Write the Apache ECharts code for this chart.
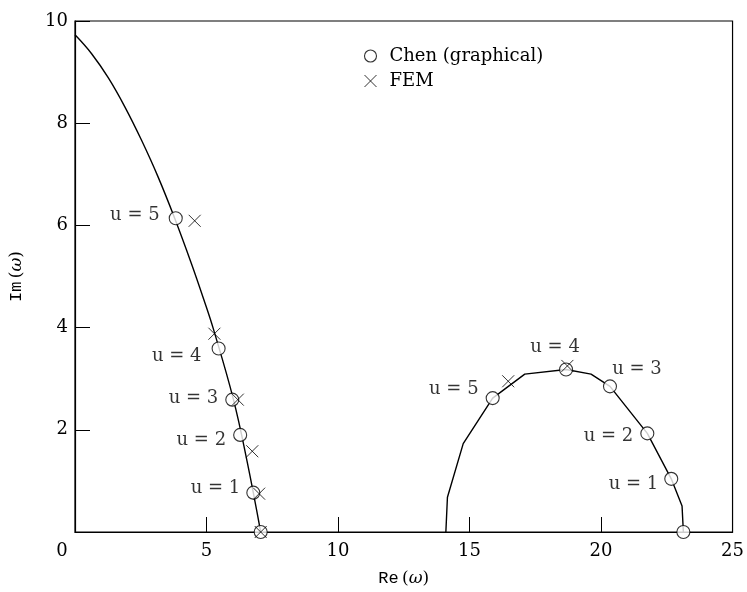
<!DOCTYPE html>
<html>
<head>
<meta charset="utf-8">
<script src="https://cdn.jsdelivr.net/npm/echarts@6/dist/echarts.min.js"></script>
<style>
  html, body { margin: 0; background: #fff; }
  #chart { width: 747px; height: 592px; }
</style>
</head>
<body>
<div id="chart"></div>
<script>
// datos
const curveLeft = [[0, 9.73], [0.632, 9.36], [1.263, 8.89], [1.895, 8.32], [2.526, 7.67], [3.158, 6.95],
  [3.79, 6.14], [4.421, 5.26], [4.89, 4.56], [5.269, 3.96], [6.025, 2.59], [6.543, 1.38], [7.06, 0]];
const curveRight = [[14.10, 0], [14.16, 0.68], [14.76, 1.73], [15.88, 2.62], [17.10, 3.09], [18.67, 3.18],
  [19.62, 3.09], [20.34, 2.85], [21.76, 1.93], [22.67, 1.04], [23.08, 0.51], [23.13, 0]];
const chenLeft = [[3.83, 6.14], [5.46, 3.59], [5.98, 2.59], [6.28, 1.90], [6.78, 0.77], [7.06, 0]];
const chenRight = [[15.88, 2.62], [18.67, 3.18], [20.34, 2.85], [21.76, 1.93], [22.67, 1.04], [23.13, 0]];
const femLeft = [[4.55, 6.09], [5.30, 3.88], [6.19, 2.59], [6.74, 1.58], [7.00, 0.75], [7.06, 0]];
const femRight = [[16.47, 2.95], [18.72, 3.25]];
const uLabels = ['u = 5', 'u = 4', 'u = 3', 'u = 2', 'u = 1', ''];

// colocacion de las etiquetas (solo estilo)
const placeLeft = [
  { position: 'left', distance: 9, offset: [0, -3] },
  { position: 'left', distance: 10, offset: [0, 8] },
  { position: 'left', distance: 7, offset: [0, -1] },
  { position: 'left', distance: 7, offset: [0, 5] },
  { position: 'left', distance: 6, offset: [0, -4] },
  { position: 'left', distance: 6, offset: [0, 0] }
];
const placeRight = [
  { position: 'left', distance: 7, offset: [0, -9] },
  { position: 'top', distance: 6, offset: [-11, 0] },
  { position: 'top', distance: 1, offset: [27, 0] },
  { position: 'left', distance: 7, offset: [0, 3] },
  { position: 'left', distance: 6, offset: [0, 5] },
  { position: 'left', distance: 6, offset: [0, 0] }
];

const serif = '"DejaVu Serif", serif';
const crossPath = 'path://M0,0L10,10M10,0L0,10';

function withLabels(points, place) {
  return points.map((p, i) => ({
    value: p,
    label: Object.assign({ show: !!uLabels[i], formatter: uLabels[i] }, place[i])
  }));
}

const chart = echarts.init(document.getElementById('chart'));

const lineStyle = { color: '#000', width: 1.4 };
const markerStyle = { color: '#fff', borderColor: '#000', borderWidth: 1.1 };
const crossStyle = { color: 'none', borderColor: '#000', borderWidth: 1 };
const labelStyle = { color: '#000', fontFamily: serif, fontSize: 18 };
const nameRich = {
  m: { fontFamily: '"Liberation Mono", monospace', fontSize: 17, color: '#000' },
  s: { fontFamily: serif, fontSize: 17, color: '#000' },
  w: { fontFamily: serif, fontStyle: 'italic', fontSize: 17, color: '#000' }
};

chart.setOption({
  backgroundColor: '#fff',
  animation: false,
  grid: { left: 74, right: 12, top: 21, bottom: 55, show: true, borderColor: '#000', borderWidth: 1.2 },
  legend: {
    orient: 'vertical',
    left: 357,
    top: 42,
    itemWidth: 12,
    itemHeight: 12,
    itemGap: 7,
    textStyle: { color: '#000', fontFamily: serif, fontSize: 18, lineHeight: 18, padding: [0, 0, 0, 8] },
    data: [
      { name: 'Chen (graphical)', icon: 'circle', itemStyle: markerStyle },
      { name: 'FEM', icon: crossPath, itemStyle: crossStyle }
    ]
  },
  xAxis: {
    type: 'value', min: 0, max: 25, interval: 5,
    name: '{m|Re} {s|(}{w|ω}{s|)}',
    nameLocation: 'middle', nameGap: 38,
    nameTextStyle: { rich: nameRich },
    axisLine: { lineStyle: { color: '#000', width: 1.2 } },
    axisTick: { inside: true, length: 15, lineStyle: { color: '#000' } },
    splitLine: { show: false },
    axisLabel: {
      margin: 10, color: '#000', fontFamily: serif, fontSize: 18,
      formatter: v => v === 0 ? '{z|0}' : String(v),
      rich: { z: { fontFamily: serif, fontSize: 18, color: '#000', padding: [0, 26, 0, 0] } }
    }
  },
  yAxis: {
    type: 'value', min: 0, max: 10, interval: 2,
    name: '{m|Im} {s|(}{w|ω}{s|)}',
    nameLocation: 'middle', nameGap: 50, nameRotate: 90,
    nameTextStyle: { rich: nameRich },
    axisLine: { lineStyle: { color: '#000', width: 1.2 } },
    axisTick: { inside: true, length: 15, lineStyle: { color: '#000' } },
    splitLine: { show: false },
    axisLabel: { showMinLabel: false, margin: 7, color: '#000', fontFamily: serif, fontSize: 18 }
  },
  series: [
    { type: 'line', data: curveLeft, smooth: 0.4, showSymbol: false, symbol: 'none', lineStyle: lineStyle, silent: true },
    { type: 'line', data: curveRight, smooth: false, showSymbol: false, symbol: 'none', lineStyle: lineStyle, silent: true },
    {
      name: 'Chen (graphical)', type: 'scatter', symbol: 'circle', symbolSize: 13,
      itemStyle: markerStyle, label: labelStyle, z: 3,
      data: withLabels(chenLeft, placeLeft).concat(withLabels(chenRight, placeRight))
    },
    {
      name: 'FEM', type: 'scatter', symbol: crossPath, symbolSize: 12,
      itemStyle: crossStyle, z: 4,
      data: femLeft.concat(femRight)
    }
  ]
});
</script>
</body>
</html>
